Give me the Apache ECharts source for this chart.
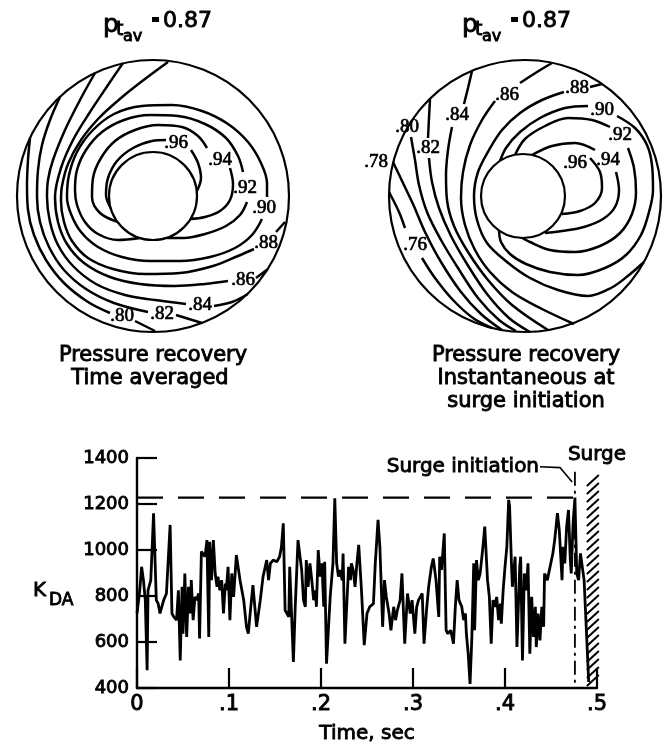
<!DOCTYPE html>
<html><head><meta charset="utf-8">
<script src="https://cdn.jsdelivr.net/npm/echarts@6/dist/echarts.min.js"></script>
<style>html,body{margin:0;padding:0;background:#fff}#c{width:670px;height:749px}</style>
</head><body><div id="c"></div>
<script>
// ---------- Time trace (time in s, K_DA) ----------
const kdaTrace = [
[0.000,724],[0.003,825],[0.005,927],[0.007,869],[0.009,782],[0.011,477],[0.012,825],[0.015,869],[0.018,1160],[0.021,782],
[0.023,767],[0.025,724],[0.029,782],[0.032,811],[0.036,1109],[0.038,724],[0.040,709],[0.043,695],[0.045,825],[0.047,520],
[0.049,840],[0.050,636],[0.052,898],[0.054,622],[0.056,840],[0.058,724],[0.059,869],[0.061,695],[0.063,796],[0.065,782],
[0.067,811],[0.068,615],[0.070,993],[0.072,1000],[0.074,971],[0.076,1043],[0.078,622],[0.079,1036],[0.081,869],[0.083,1043],
[0.085,898],[0.087,840],[0.088,884],[0.090,825],[0.092,869],[0.094,724],[0.096,854],[0.097,825],[0.099,927],[0.101,695],
[0.103,898],[0.105,796],[0.108,978],[0.112,869],[0.116,782],[0.119,666],[0.121,636],[0.123,724],[0.126,847],[0.130,666],
[0.134,782],[0.137,884],[0.141,956],[0.143,869],[0.145,942],[0.148,956],[0.152,949],[0.155,971],[0.157,1014],[0.159,1116],
[0.161,738],[0.165,709],[0.166,927],[0.170,513],[0.172,753],[0.175,1043],[0.179,913],[0.181,782],[0.183,753],[0.184,956],
[0.186,840],[0.188,942],[0.190,869],[0.192,782],[0.194,825],[0.195,753],[0.197,1000],[0.199,884],[0.201,942],[0.203,753],
[0.204,949],[0.206,506],[0.210,796],[0.213,942],[0.215,1225],[0.217,942],[0.219,884],[0.221,913],[0.223,869],[0.224,985],
[0.226,593],[0.230,927],[0.232,869],[0.233,942],[0.235,913],[0.237,840],[0.239,942],[0.241,1022],[0.244,825],[0.247,586],
[0.250,724],[0.253,753],[0.257,767],[0.259,942],[0.262,1131],[0.264,1014],[0.267,666],[0.269,869],[0.271,796],[0.274,724],
[0.276,651],[0.279,753],[0.281,695],[0.283,738],[0.286,782],[0.288,898],[0.291,593],[0.294,811],[0.297,724],[0.299,782],
[0.302,636],[0.304,753],[0.306,782],[0.310,811],[0.312,593],[0.315,753],[0.317,840],[0.320,927],[0.322,963],[0.325,869],
[0.328,709],[0.329,971],[0.331,913],[0.334,1072],[0.336,651],[0.338,636],[0.341,651],[0.344,593],[0.346,753],[0.348,869],
[0.350,782],[0.353,753],[0.355,695],[0.357,724],[0.358,636],[0.360,549],[0.362,418],[0.364,622],[0.366,942],[0.367,651],
[0.369,956],[0.371,869],[0.373,898],[0.376,1014],[0.378,1102],[0.381,869],[0.383,796],[0.385,593],[0.387,782],[0.389,753],
[0.391,796],[0.393,695],[0.395,767],[0.396,680],[0.398,825],[0.400,927],[0.402,1014],[0.404,1218],[0.405,1189],[0.407,942],
[0.408,840],[0.411,971],[0.413,578],[0.416,927],[0.417,971],[0.419,520],[0.421,898],[0.423,825],[0.425,942],[0.427,549],
[0.429,796],[0.431,622],[0.433,753],[0.434,578],[0.436,724],[0.438,607],[0.440,753],[0.442,666],[0.443,898],[0.446,869],
[0.449,927],[0.452,985],[0.454,1043],[0.457,1160],[0.459,1087],[0.462,869],[0.463,1014],[0.465,942],[0.467,1102],[0.469,1174],
[0.471,956],[0.472,898],[0.474,1116],[0.476,1228],[0.478,898],[0.480,869],[0.482,985],[0.483,956],[0.486,869],[0.491,426]
];
const xTickLabels = ['0', '.1', '.2', '.3', '.4', '.5'];
const surgeLevel = [[0, 1228], [0.476, 1228]];
const surgeInitLine = [[0.476, 1340], [0.476, 400]];
const leaderLine = [[0.438, 1362], [0.460, 1358], [0.473, 1296]];
const surgeBand = [[0.489, 0.502, 400, 1345]];
const annotations = [['Surge initiation', 0.437, 1362, 'left'], ['Surge', 0.5, 1414, 'inside']];

// ---------- Left circle (time averaged), local frame: radius 136 ----------
const leftRings = [[0, 0, 136, 0], [0, 0, 44, 1]];
const left96 = [[[-41,-14],[-47,1],[-45,18],[-36,35],[-20,48],[-1,55],[13,56]], [[38,46],[45,33],[48,18],[44,5]]];
const left94 = [[[-35,-26],[-53,-17],[-61,-1],[-60,18],[-52,38],[-38,55],[-18,66],[5,71],[29,69],[45,60],[54,48]], [[77,28],[80,12],[77,-4],[67,-15],[52,-21],[37,-23]]];
const left92 = [[[-13,-42],[-35,-44],[-55,-38],[-68,-26],[-76,-9],[-78,6],[-76,26],[-67,46],[-51,64],[-29,76],[-3,81],[25,80],[52,72],[73,58],[85,40],[90,24]], [[94,-6],[87,-19],[73,-30],[52,-38],[31,-42],[14,-42]]];
const left90 = [[[114,-1],[114,13],[108,33],[95,54],[75,72],[49,85],[19,91],[-11,90],[-39,82],[-61,65],[-76,44],[-84,21],[-86,-1],[-82,-18],[-72,-36],[-55,-51],[-31,-61],[-3,-65],[27,-65],[57,-61],[82,-52],[99,-39],[109,-23]]];
const left88 = [[[15,134],[-8,117],[-32,98],[-54,78],[-72,56],[-85,32],[-91,10],[-92,-5],[-89,-26],[-81,-45],[-65,-62],[-40,-73],[-8,-78],[27,-77],[60,-70],[85,-60],[101,-53]], [[123,-36],[132,-26]]];
const left86 = [[[-30,133],[-45,111],[-63,84],[-80,56],[-92,28],[-98,-1],[-95,-26],[-86,-48],[-69,-67],[-43,-81],[-13,-88],[22,-90],[52,-88],[75,-85]], [[103,-82],[115,-73]]];
const left84 = [[[-58,123],[-73,96],[-88,66],[-100,36],[-105,16],[-106,-1],[-103,-26],[-95,-49],[-80,-70],[-57,-88],[-28,-99],[2,-104],[33,-108]], [[61,-110],[79,-106],[95,-98]]];
const left82 = [[[-93,99],[-103,76],[-111,51],[-115,26],[-116,-1],[-113,-26],[-104,-51],[-89,-74],[-67,-93],[-39,-107],[-5,-116]], [[23,-119],[49,-127]]];
const left80 = [[[-123,58],[-125,36],[-126,11],[-125,-14],[-119,-39],[-107,-64],[-89,-87],[-65,-106],[-43,-117]], [[-18,-125],[2,-135]]];
const leftLabels = [['.96',23,53],['.94',67,36],['.92',92,8],['.90',111,-12],['.88',113,-47],['.86',90,-84],['.84',47,-109],['.82',9,-118],['.80',-31,-120]];

// ---------- Right circle (instantaneous at surge initiation) ----------
const rightRings = [[0, 0, 136, 0], [-2, 0, 42, 1]];
const right96 = [[[65,38],[75,24],[77,8],[70,-7],[55,-15],[37,-18]]];
const right94 = [[[7,41],[27,50],[50,53],[70,46]], [[91,24],[94,6],[90,-11],[78,-23],[59,-31],[37,-35],[20,-37]]];
const right92 = [[[-10,41],[0,57],[20,70],[43,78],[67,76],[85,69]], [[103,48],[109,28],[111,4],[107,-18],[95,-37],[75,-50],[50,-56],[25,-54],[5,-46],[-6,-40]]];
const right90 = [[[-26,32],[-19,48],[-5,64],[15,78],[40,88],[63,90]], [[92,80],[110,68],[122,51],[127,31],[128,6],[124,-16],[116,-39],[101,-59],[80,-72],[53,-79],[25,-76],[1,-68],[-15,-58],[-24,-46],[-26,-34]]];
const right88 = [[[77,112],[65,109]], [[39,104],[17,96],[-5,83],[-23,66],[-36,46],[-47,24],[-51,0],[-48,-24],[-38,-47],[-18,-66],[5,-82],[33,-94],[63,-100],[86,-92],[104,-79],[119,-66]]];
const right86 = [[[27,133],[12,124],[-5,113]], [[-30,95],[-43,76],[-55,51],[-62,24],[-64,-2],[-60,-29],[-50,-54],[-35,-76],[-13,-96],[15,-112],[49,-128]]];
const right84 = [[[-53,125],[-57,108],[-61,92]], [[-73,69],[-77,46],[-79,21],[-78,-4],[-71,-30],[-57,-56],[-37,-84],[-13,-109],[23,-134]]];
const right82 = [[[-95,97],[-96,78],[-97,58]], [[-96,38],[-93,14],[-86,-12],[-74,-40],[-58,-68],[-38,-98],[-16,-122],[5,-136]]];
const right80 = [[[-114,59],[-110,36],[-106,11],[-98,-16],[-84,-44],[-67,-72],[-47,-102],[-26,-124],[-9,-135]]];
const right78 = [[[-132,34],[-122,13],[-112,-8],[-100,-36],[-84,-66],[-64,-96],[-44,-118],[-23,-134]]];
const right76 = [[[-136,4],[-126,-16],[-120,-32]], [[-103,-62],[-90,-82],[-72,-104],[-52,-122],[-33,-132]]];
const rightLabels = [['.96',50,33],['.94',83,36],['.92',95,61],['.90',77,86],['.88',52,108],['.86',-18,101],['.84',-68,81],['.82',-97,48],['.80',-118,69],['.78',-149,34],['.76',-110,-49]];

// ---------- build ----------
const INK = '#000';
const SANS = '"DejaVu Sans", "Open Sans", sans-serif';
const SERIF = '"Liberation Serif", "DejaVu Serif", serif';

function contourSeries(levels, idx) {
  const out = [];
  levels.forEach(segs => segs.forEach(seg => out.push({
    type: 'line', xAxisIndex: idx, yAxisIndex: idx, data: seg, smooth: 0.35,
    symbol: 'none', silent: true, z: 2, lineStyle: { color: INK, width: 2.5 }
  })));
  return out;
}
function ringSeries(rings, idx) {
  return {
    type: 'custom', xAxisIndex: idx, yAxisIndex: idx, data: rings, z: 4, silent: true, clip: false,
    renderItem(params, api) {
      const c = api.coord([api.value(0), api.value(1)]);
      const r = api.size([api.value(2), 0])[0];
      return { type: 'circle', shape: { cx: c[0], cy: c[1], r: r },
        style: { fill: api.value(3) ? '#fff' : 'none', stroke: INK, lineWidth: 2.2 } };
    }
  };
}
function labelSeries(labels, idx) {
  return {
    type: 'scatter', xAxisIndex: idx, yAxisIndex: idx, symbolSize: 0, z: 6, silent: true, clip: false,
    itemStyle: { opacity: 1 },
    data: labels.map(l => ({ name: l[0], value: [l[1], l[2]] })),
    label: { show: true, position: 'inside', formatter: '{b}', color: INK, fontFamily: SERIF,
      fontSize: 19, textBorderColor: INK, textBorderWidth: 0.7, opacity: 1 }
  };
}
const hidden = (g) => ({ gridIndex: g, type: 'value', min: -136, max: 136, show: false });

function txt(text, x, y, size, align) {
  return { type: 'text', x: x, y: y, silent: true,
    style: { text: text, fontSize: size, fontFamily: SANS, fill: INK, stroke: INK, lineWidth: 0.9,
      textAlign: align || 'center', textVerticalAlign: 'middle' } };
}
function titleGroup(dx) {
  return [
    txt('p', 103 + dx, 25, 25, 'left'),
    txt('t', 116 + dx, 30, 19, 'left'),
    txt('av', 123 + dx, 37, 16, 'left'),
    { type: 'rect', silent: true, shape: { x: 152 + dx, y: 17, width: 7, height: 5 }, style: { fill: INK } },
    txt('0.87', 163 + dx, 21, 22, 'left')
  ];
}

const series = [
  ...contourSeries([left96, left94, left92, left90, left88, left86, left84, left82, left80], 1),
  ringSeries(leftRings, 1),
  labelSeries(leftLabels, 1),
  ...contourSeries([right96, right94, right92, right90, right88, right86, right84, right82, right80, right78, right76], 2),
  ringSeries(rightRings, 2),
  labelSeries(rightLabels, 2),
  { type: 'line', data: kdaTrace, symbol: 'none', silent: true, z: 3, lineStyle: { color: INK, width: 2.8 } },
  { type: 'line', data: surgeLevel, symbol: 'none', silent: true, z: 2, lineStyle: { color: INK, width: 2.2, type: [26, 15] } },
  { type: 'line', data: surgeInitLine, symbol: 'none', silent: true, z: 2, lineStyle: { color: INK, width: 1.8, type: [14, 5, 3, 5] } },
  { type: 'line', data: leaderLine, symbol: 'none', silent: true, z: 2, clip: false, lineStyle: { color: INK, width: 1.6 } },
  { type: 'custom', data: surgeBand, silent: true, clip: false, z: 3,
    renderItem(params, api) {
      const p0 = api.coord([api.value(0), api.value(2)]);
      const p1 = api.coord([api.value(1), api.value(3)]);
      const kids = [];
      for (let y = p0[1] - 2; y > p1[1] + 10; y -= 8) {
        kids.push({ type: 'line', shape: { x1: p0[0], y1: y, x2: p1[0], y2: y - 11 }, style: { stroke: INK, lineWidth: 2 } });
      }
      return { type: 'group', children: kids };
    } },
  { type: 'scatter', symbolSize: 0, silent: true, clip: false, z: 6, itemStyle: { opacity: 1 },
    data: annotations.map(a => ({ name: a[0], value: [a[1], a[2]], label: { position: a[3] } })),
    label: { show: true, formatter: '{b}', distance: 0, color: INK, fontFamily: SANS, fontSize: 20,
      textBorderColor: INK, textBorderWidth: 0.9, opacity: 1 } }
];

const chart = echarts.init(document.getElementById('c'), null, { renderer: 'canvas' });
chart.setOption({
  animation: false,
  backgroundColor: '#fff',
  textStyle: { fontFamily: SANS },
  grid: [
    { left: 137, top: 458, width: 460, height: 230 },
    { left: 17, top: 60, width: 272, height: 272 },
    { left: 389, top: 60, width: 272, height: 272 }
  ],
  xAxis: [
    { gridIndex: 0, type: 'value', min: 0, max: 0.5, interval: 0.1,
      name: 'Time, sec', nameLocation: 'middle', nameGap: 36,
      nameTextStyle: { fontSize: 20, color: INK, fontFamily: SANS, textBorderColor: INK, textBorderWidth: 0.9 },
      axisLine: { lineStyle: { color: INK, width: 2.4 } },
      axisTick: { inside: true, length: 20, lineStyle: { color: INK, width: 2.2 } },
      axisLabel: { margin: 6, fontSize: 21, color: INK, fontFamily: SANS, textBorderColor: INK, textBorderWidth: 0.9,
        formatter: v => xTickLabels[Math.round(v * 10)] },
      splitLine: { show: false } },
    hidden(1), hidden(2)
  ],
  yAxis: [
    { gridIndex: 0, type: 'value', min: 400, max: 1400, interval: 200,
      axisLine: { show: true, lineStyle: { color: INK, width: 2.4 } },
      axisTick: { show: true, inside: true, length: 20, lineStyle: { color: INK, width: 2.2 } },
      axisLabel: { margin: 8, fontSize: 18, color: INK, fontFamily: SANS, textBorderColor: INK, textBorderWidth: 0.9,
        formatter: v => String(v) },
      splitLine: { show: false } },
    hidden(1), hidden(2)
  ],
  graphic: [
    ...titleGroup(0), ...titleGroup(359),
    txt('Pressure recovery', 153, 356, 21),
    txt('Time averaged', 150, 379, 21),
    txt('Pressure recovery', 526, 356, 21),
    txt('Instantaneous at', 526, 379, 21),
    txt('surge initiation', 526, 402, 21),
    txt('K', 33, 591, 20, 'left'),
    txt('DA', 49, 601, 17, 'left')
  ],
  series: series
});
</script></body></html>
